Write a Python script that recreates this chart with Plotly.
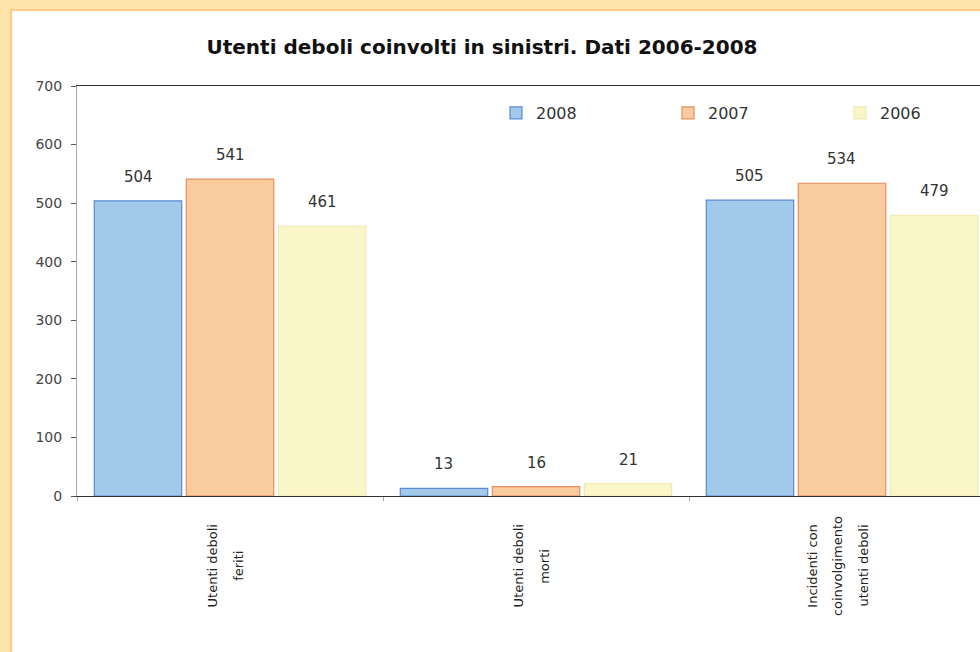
import plotly.graph_objects as go

# Data: vulnerable road users involved in road accidents, 2006-2008
categories = [
    "Utenti deboli<br>feriti",
    "Utenti deboli<br>morti",
    "Incidenti con<br>coinvolgimento<br>utenti deboli",
]
years = ["2008", "2007", "2006"]
values_2008 = [504, 13, 505]
values_2007 = [541, 16, 534]
values_2006 = [461, 21, 479]
series = [values_2008, values_2007, values_2006]

fill_colors = ["#A2C8EA", "#F9CB9E", "#FBF6C8"]
line_colors = ["#5A8AD2", "#E48E5C", "#F0E9B4"]

W, H = 980, 652
ML, MR, MT, MB = 77, 0, 86, 156
plot_w = W - ML - MR
plot_h = H - MT - MB

FONT = "DejaVu Sans"
BARGAP = 0.098


def px_x(p):
    return (p - ML) / plot_w


def px_y(p):
    return (H - MB - p) / plot_h


legend_ids = ["legend", "legend2", "legend3"]
legend_text_x = [537, 709, 881]

fig = go.Figure()
for name, vals, fc, lc, lid in zip(years, series, fill_colors, line_colors, legend_ids):
    fig.add_trace(go.Bar(
        name=name,
        x=categories,
        y=vals,
        legend=lid,
        marker=dict(color=fc, line=dict(color=lc, width=1.2)),
    ))

# value labels above each bar, positioned on the grouped slots
slot = (1 - BARGAP) / len(series)
annotations = []
for k, vals in enumerate(series):
    for i, v in enumerate(vals):
        annotations.append(dict(
            x=i + (k - (len(series) - 1) / 2) * slot, y=v,
            xref="x", yref="y", text=str(v), showarrow=False,
            yanchor="bottom", yshift=13,
            font=dict(family=FONT, size=15, color="#333333"),
        ))

# rotated category labels, one annotation per line
line_step = 25 / plot_w * 3
for i, cat in enumerate(categories):
    lines = cat.split("<br>")
    n = len(lines)
    for j, txt in enumerate(lines):
        annotations.append(dict(
            x=i - 0.016 + (j - (n - 1) / 2) * line_step, y=(-70) / plot_h,
            xref="x", yref="paper", text=txt, showarrow=False,
            textangle=-90, xanchor="center", yanchor="middle",
            font=dict(family=FONT, size=13, color="#222222"),
        ))

shapes = [
    # white chart panel inside the frame
    dict(type="rect", xref="paper", yref="paper", layer="below",
         x0=px_x(12), x1=px_x(W + 20), y0=px_y(H + 20), y1=px_y(11),
         fillcolor="white", line=dict(width=0)),
    dict(type="line", xref="paper", yref="paper", layer="below",
         x0=px_x(11), x1=px_x(11), y0=px_y(H + 20), y1=px_y(10),
         line=dict(color="#FFCB88", width=2)),
    dict(type="line", xref="paper", yref="paper", layer="below",
         x0=px_x(10), x1=px_x(W + 20), y0=px_y(10), y1=px_y(10),
         line=dict(color="#FFCB88", width=2)),
]

legend_style = dict(
    orientation="h", xanchor="left", yanchor="middle", y=px_y(113),
    font=dict(family=FONT, size=16, color="#333333"),
    bgcolor="rgba(0,0,0,0)", borderwidth=0,
)
legends = {
    lid: dict(legend_style, x=px_x(tx - 41))
    for lid, tx in zip(legend_ids, legend_text_x)
}

fig.update_layout(
    width=W, height=H,
    margin=dict(l=ML, r=MR, t=MT, b=MB, pad=0),
    paper_bgcolor="#FDE4AA",
    plot_bgcolor="white",
    barmode="group",
    bargap=BARGAP,
    bargroupgap=0.05,
    showlegend=True,
    title=dict(
        text="<b>Utenti deboli coinvolti in sinistri. Dati 2006-2008</b>",
        x=482 / W, xanchor="center", xref="container",
        y=1 - 47 / H, yanchor="middle", yref="container",
        font=dict(family=FONT, size=20, color="#111111"),
    ),
    xaxis=dict(
        type="category",
        range=[-0.5, 2.451],
        showticklabels=False,
        showline=True, linecolor="#333333", linewidth=1,
        mirror=True,
        ticks="outside", tickson="boundaries", ticklen=4, tickcolor="#AAAAAA",
        showgrid=False, zeroline=False,
    ),
    yaxis=dict(
        range=[0, 700],
        tickvals=[0, 100, 200, 300, 400, 500, 600, 700],
        showline=True, linecolor="#A8A8A8", linewidth=1,
        ticks="outside", ticklen=5, tickcolor="#555555",
        ticklabelstandoff=6,
        showgrid=False, zeroline=False,
        tickfont=dict(family=FONT, size=14, color="#444444"),
    ),
    annotations=annotations,
    shapes=shapes,
    **legends,
)

fig.write_html("out.html")
